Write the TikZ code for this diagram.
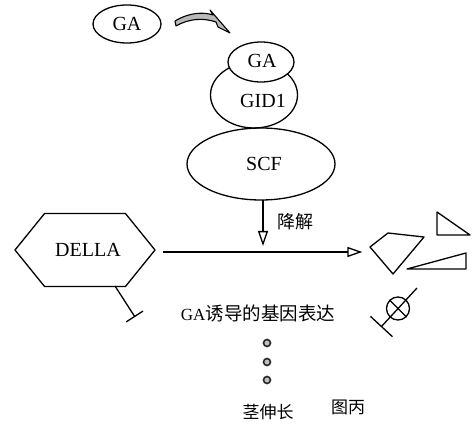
\documentclass[tikz,border=0pt]{standalone}
\usepackage{fontspec}
\setmainfont{Liberation Serif}
\newfontfamily\cjk{Noto Sans CJK SC}
\usetikzlibrary{shapes.geometric,shapes.symbols,arrows.meta}
\begin{document}
\begin{tikzpicture}[x=1pt,y=-1pt,line width=1.3pt,
  ell/.style={draw,ellipse,inner sep=0pt},
  lat/.style={font=\fontsize{20}{22}\selectfont,inner sep=0pt},
  cj/.style={font=\cjk\fontsize{18}{20}\selectfont,inner sep=0pt},
  arr/.style={-{Triangle[open,length=15pt,width=10pt]}},
  inh/.style={-{Bar[width=#1]}},
  dot/.style={draw=black!85,circle,fill=gray!50,minimum size=7pt,inner sep=0pt,line width=1.6pt}]
\useasboundingbox (0,0) rectangle (476,427);
% free GA
\node[ell,minimum width=68pt,minimum height=38pt] (ga) at (127,24) {};
\node[lat] (gat) at (127,24) {GA};
% curved thick arrow
\filldraw[fill=gray!55,line width=1.1pt,line join=round]
  (175,21) .. controls (190,12) and (204,12) .. (213,15) -- (210,10) -- (230,33)
  -- (218,27) -- (216,22) .. controls (204,18) and (190,18) .. (176,26) -- cycle;
% complex
\node[ell,minimum width=148pt,minimum height=72pt] (scf) at (261,164) {};
\node[lat] (scft) at (264,164) {SCF};
\node[ell,minimum width=87pt,minimum height=66pt] (gid1) at (254,95) {};
\node[lat] (gid1t) at (263,101) {GID1};
\node[ell,fill=white,minimum width=66pt,minimum height=40pt] (ga2) at (261,62) {};
\node[lat] (ga2t) at (262,61) {GA};
% DELLA
\node[signal,signal to=west and east,draw,minimum width=140pt,minimum height=73pt,
  signal pointer angle=102,inner sep=0pt] (della) at (85,250) {};
\node[lat] (dellat) at (88,250) {DELLA};
% degradation arrow
\coordinate (dtop) at (263,200);
\coordinate (dbot) at (263,246);
\draw[arr] (dtop) -- (dbot);
\node[cj,anchor=west] (jj) at (277,222) {降解};
% horizontal arrow
\coordinate (hs) at (163,252);
\node[inner sep=0pt,minimum size=0pt] (prot) at (363,252) {};
\draw[arr] (hs) -- (prot);
% fragments
\draw[line join=round] (370,247) -- (388,233) -- (424,237) -- (393,274) -- cycle;
\draw[line join=round] (437,212) -- (437,235) -- (470,235) -- cycle;
\draw[line join=round] (407,269) -- (466,253) -- (466,269) -- cycle;
% DELLA inhibition
\coordinate (di) at (115,286);
\coordinate (de) at (135,317);
\draw[inh=20pt] (di) -- (de);
% GA-induced gene expression
\node[font=\fontsize{17}{20}\selectfont,inner sep=0pt] (gene) at (258,313) {GA{\cjk\fontsize{18.5}{20}\selectfont 诱导的基因表达}};
% circle with cross
\node[draw,circle,minimum size=23pt,inner sep=0pt] (cx) at (398,308.5) {};
\draw (cx.north west) -- (cx.south east);
\coordinate (cs) at (417,288);
\coordinate (ce) at (381,327);
\draw[inh=30pt] (cs) -- (ce);
% dots
\node[dot] (d1) at (267,343) {};
\node[dot] (d2) at (267,362) {};
\node[dot] (d3) at (267,380) {};
% texts
\node[cj,font=\cjk\fontsize{17}{20}\selectfont] (stem) at (268,412) {茎伸长};
\node[cj,font=\cjk\fontsize{17}{20}\selectfont] (fig) at (348,407) {图丙};
\end{tikzpicture}
\end{document}
